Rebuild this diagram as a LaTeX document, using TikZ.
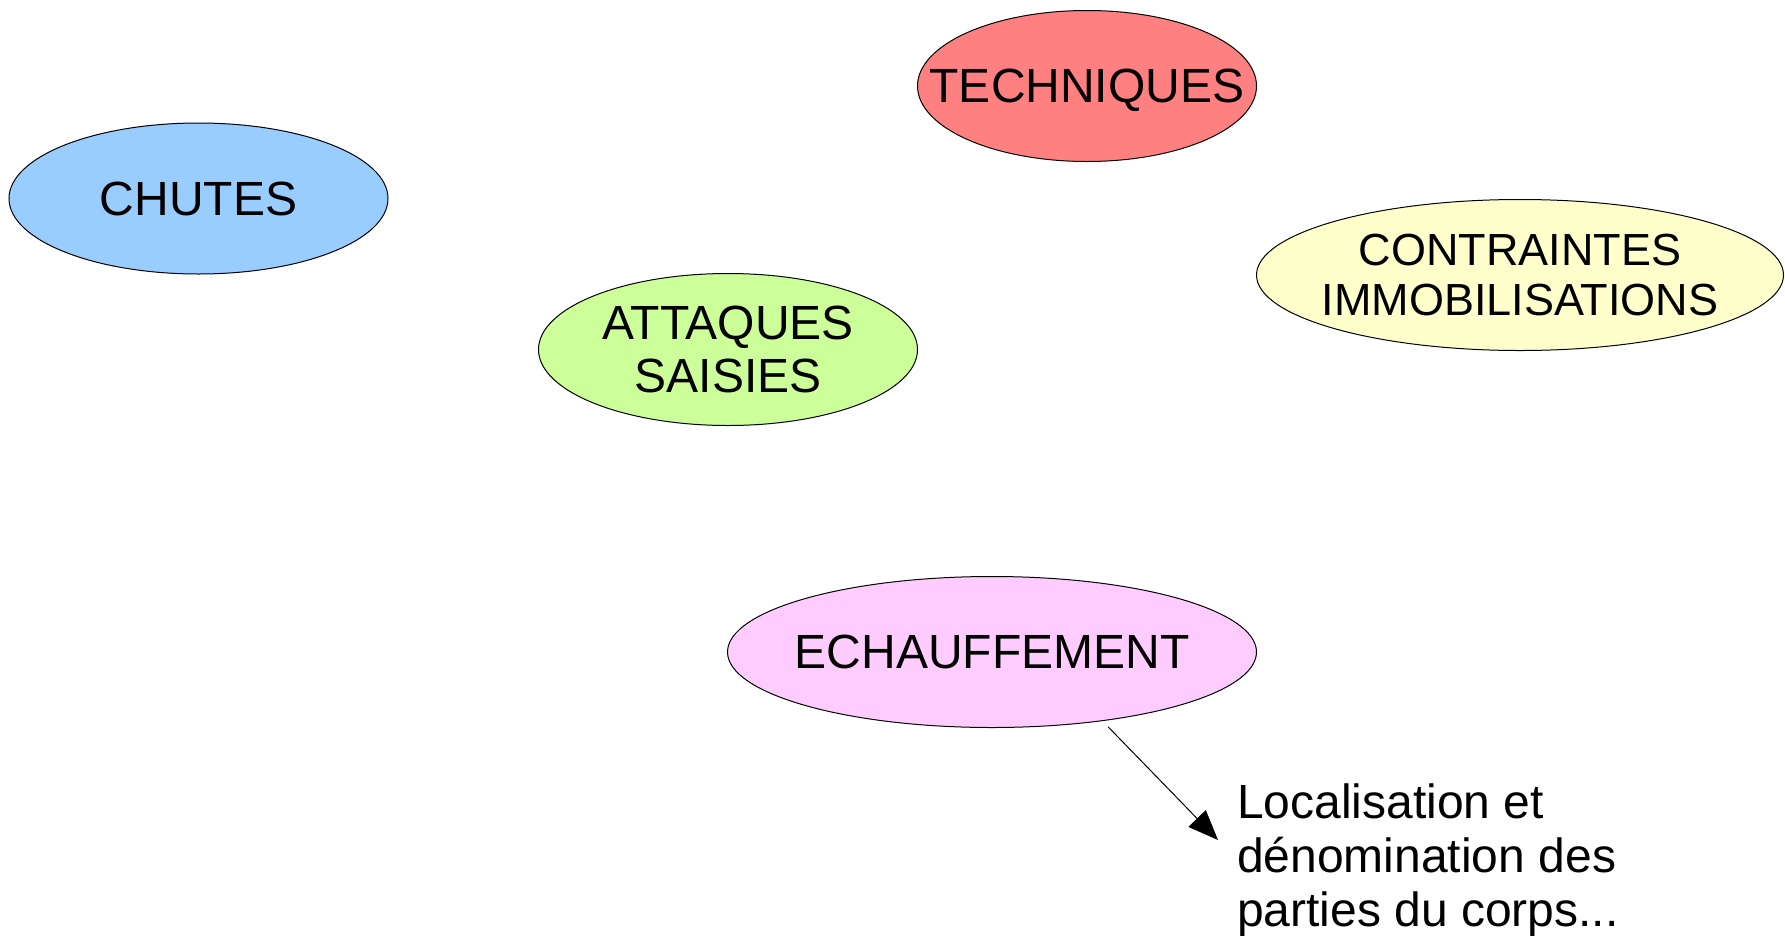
\documentclass[tikz,border=0pt]{standalone}
\usepackage{fontspec}
\setmainfont{Liberation Sans}
\usetikzlibrary{shapes.geometric,arrows.meta}

\newlength{\du}
\setlength{\du}{10pt}

\definecolor{diablue}{rgb}{0.600000, 0.800000, 1.000000}
\definecolor{diared}{rgb}{1.000000, 0.501961, 0.501961}
\definecolor{diayellow}{rgb}{1.000000, 1.000000, 0.800000}
\definecolor{diagreen}{rgb}{0.800000, 1.000000, 0.600000}
\definecolor{diapink}{rgb}{1.000000, 0.800000, 1.000000}

% zero width lines, caps only, so the ellipse keeps its own size
\newcommand{\lbl}[1]{\makebox[0pt]{\raisebox{0pt}[\height][0pt]{#1}}}

\tikzset{
  bulle/.style={ellipse,draw=black,line width=1pt,inner sep=0pt,align=center,
    minimum height=15.1\du,font=\fontsize{48}{53}\selectfont},
  fleche/.style={line width=1pt,shorten <=8pt,-{Triangle[length=30pt,width=24pt]}}
}

\begin{document}
\begin{tikzpicture}
\pgftransformxscale{1.000000}
\pgftransformyscale{-1.000000}
\useasboundingbox (0\du,0\du) rectangle (178.5\du,93.5\du);
% bulles
\node[bulle,fill=diablue,minimum width=37.9\du] (chutes) at (19.85\du,19.85\du){\lbl{CHUTES}};
\node[bulle,fill=diared,minimum width=33.9\du] (techniques) at (108.7\du,8.6\du){\lbl{TECHNIQUES}};
\node[bulle,fill=diayellow,minimum width=52.7\du,font=\fontsize{45}{50}\selectfont] (contraintes) at (152.0\du,27.5\du){\lbl{CONTRAINTES}\\\lbl{IMMOBILISATIONS}};
\node[bulle,fill=diagreen,minimum width=37.9\du,minimum height=15.2\du] (attaques) at (72.8\du,34.95\du){\lbl{ATTAQUES}\\\lbl{SAISIES}};
\node[bulle,fill=diapink,minimum width=52.9\du] (echauffement) at (99.2\du,65.2\du){\lbl{ECHAUFFEMENT}};
% setfont left to latex
\node[anchor=north west,inner sep=0pt,align=left,font=\fontsize{48}{54}\selectfont] (note) at (123.7\du,78.4\du){Localisation et\\d\'enomination des\\parties du corps...};
\coordinate (pointe) at (121.8\du,84.0\du);
\draw[fleche] (echauffement.-32) -- (pointe);
\end{tikzpicture}
\end{document}
